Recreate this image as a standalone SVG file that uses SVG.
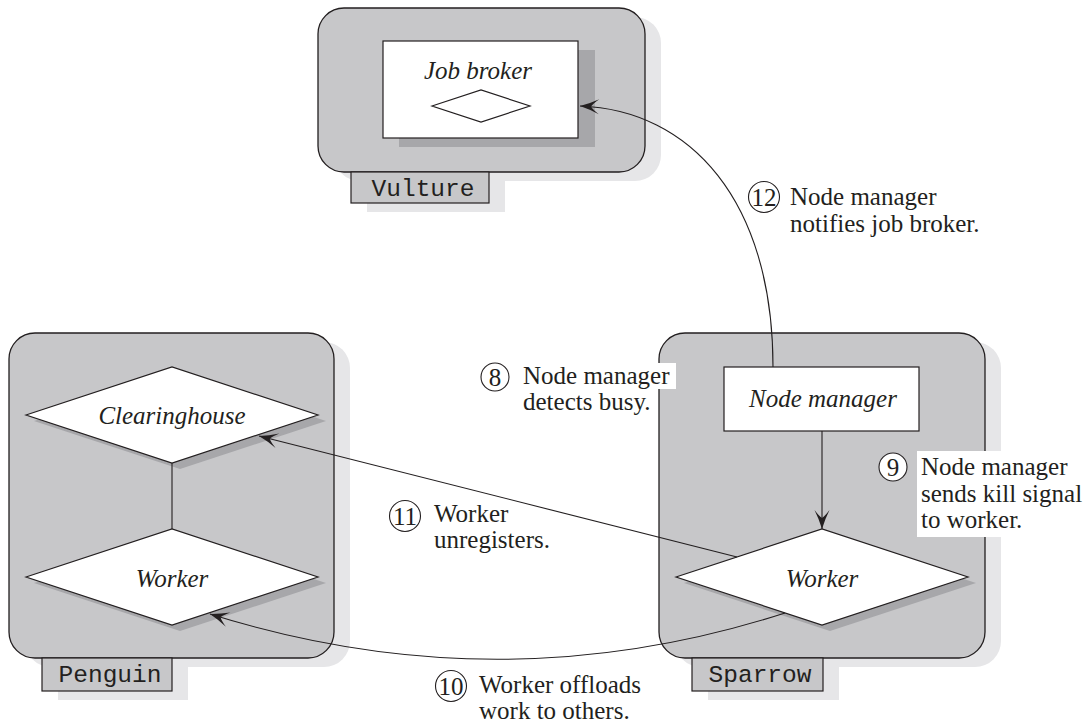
<svg xmlns="http://www.w3.org/2000/svg" width="1086" height="728" viewBox="0 0 1086 728">
<defs>
<style>
.cont{fill:#c7c7c9;stroke:#231f20;stroke-width:1.3}
.csh{fill:#e6e6e8}
.ish{fill:#a7a7aa}
.box{fill:#ffffff;stroke:#231f20;stroke-width:1.2}
.lbl{fill:#c7c7c9;stroke:#231f20;stroke-width:1.2}
.mono{font-family:'Liberation Mono','Cousine','Courier New','Noto Mono','DejaVu Sans Mono',monospace;font-size:24.5px;fill:#231f20;text-anchor:middle}
.it{font-family:'Liberation Serif','Tinos','Times New Roman','Noto Serif','DejaVu Serif',serif;font-style:italic;font-size:25px;fill:#231f20;text-anchor:middle}
.ann{font-family:'Liberation Serif','Tinos','Times New Roman','Noto Serif','DejaVu Serif',serif;font-size:25px;fill:#231f20}
.num{font-family:'Liberation Serif','Tinos','Times New Roman','Noto Serif','DejaVu Serif',serif;font-size:25px;fill:#231f20;text-anchor:middle}
.circ{fill:#ffffff;stroke:#231f20;stroke-width:1.1}
.conn{fill:none;stroke:#231f20;stroke-width:1.1}
.wbg{fill:#ffffff}
</style>
<marker id="ah" markerUnits="userSpaceOnUse" viewBox="-22 -9 24 18" refX="0" refY="0" markerWidth="24" markerHeight="18" orient="auto">
<path d="M0,0 Q-10,-3 -19,-7.5 Q-13,-3 -11,0 Q-13,3 -19,7.5 Q-10,3 0,0 Z" fill="#231f20"/>
</marker>
</defs>
<rect width="1086" height="728" fill="#ffffff"/>

<g id="vulture">
<rect class="csh" x="334" y="17" width="327" height="164" rx="26"/>
<rect class="csh" x="367" y="181" width="138" height="31"/>
<rect class="cont" x="318" y="8" width="327" height="164" rx="26"/>
<rect class="lbl" x="351" y="172" width="138" height="31"/>
<text class="mono" x="423" y="196">Vulture</text>
</g>

<g id="job-broker">
<rect class="ish" x="399" y="50" width="196" height="97"/>
<rect class="box" x="383" y="41" width="195" height="97"/>
<text class="it" x="478" y="79">Job broker</text>
<polygon class="box" points="432,106 481,90 530,106 481,122"/>
</g>

<g id="penguin">
<rect class="csh" x="25" y="342" width="325" height="325" rx="26"/>
<rect class="csh" x="58" y="667" width="130" height="33"/>
<rect class="cont" x="9" y="333" width="325" height="325" rx="26"/>
<rect class="lbl" x="42" y="658" width="130" height="33"/>
<text class="mono" x="110" y="682">Penguin</text>
</g>

<g id="sparrow">
<rect class="csh" x="675" y="342" width="326" height="325" rx="26"/>
<rect class="csh" x="708" y="667" width="131" height="33"/>
<rect class="cont" x="659" y="333" width="326" height="325" rx="26"/>
<rect class="lbl" x="692" y="658" width="131" height="33"/>
<text class="mono" x="760" y="682">Sparrow</text>
</g>

<g id="clearinghouse">
<polygon class="ish" points="34,421 180,373 326,421 180,469"/>
<polygon class="box" points="26,415 172,367 318,415 172,463"/>
<text class="it" x="172" y="424">Clearinghouse</text>
</g>

<g id="penguin-worker">
<polygon class="ish" points="34,583 180,535 326,583 180,631"/>
<polygon class="box" points="26,577 172,529 318,577 172,625"/>
<text class="it" x="172" y="587">Worker</text>
</g>

<g id="node-manager">
<rect class="box" x="724" y="367" width="195" height="64"/>
<text class="it" x="823" y="407">Node manager</text>
</g>

<g id="sparrow-worker">
<polygon class="ish" points="684,583 830,535 976,583 830,631"/>
<polygon class="box" points="676,577 822,529 968,577 822,625"/>
<text class="it" x="822" y="587">Worker</text>
</g>

<g id="connectors">
<line class="conn" x1="172" y1="463" x2="172" y2="529"/>
<line class="conn" x1="822" y1="431" x2="822" y2="529" marker-end="url(#ah)"/>
<path class="conn" d="M773,367 C773,200 690,110 580,106" marker-end="url(#ah)"/>
<line class="conn" x1="737" y1="557" x2="259" y2="436" marker-end="url(#ah)"/>
<path class="conn" d="M785,613 Q500,705 210,614" marker-end="url(#ah)"/>
</g>

<g id="label-8">
<rect class="wbg" x="517" y="363" width="159" height="26"/>
<circle class="circ" cx="495" cy="377" r="14"/>
<text class="num" x="495" y="385.5">8</text>
<text class="ann" x="523" y="384">Node manager</text>
<text class="ann" x="523" y="410">detects busy.</text>
</g>

<g id="label-9">
<rect class="wbg" x="917" y="451" width="169" height="86"/>
<circle class="circ" cx="893" cy="467" r="14"/>
<text class="num" x="893" y="475.5">9</text>
<text class="ann" x="921" y="475">Node manager</text>
<text class="ann" x="921" y="502">sends kill signal</text>
<text class="ann" x="921" y="528">to worker.</text>
</g>

<g id="label-10">
<circle class="circ" cx="451" cy="686" r="15.5"/>
<text class="num" x="451" y="694.5">10</text>
<text class="ann" x="479" y="693">Worker offloads</text>
<text class="ann" x="479" y="719">work to others.</text>
</g>

<g id="label-11">
<circle class="circ" cx="405" cy="516" r="15.5"/>
<text class="num" x="405" y="524.5">11</text>
<text class="ann" x="434" y="522">Worker</text>
<text class="ann" x="434" y="548">unregisters.</text>
</g>

<g id="label-12">
<circle class="circ" cx="764" cy="197" r="15.5"/>
<text class="num" x="764" y="205.5">12</text>
<text class="ann" x="790" y="205">Node manager</text>
<text class="ann" x="790" y="232">notifies job broker.</text>
</g>
</svg>
